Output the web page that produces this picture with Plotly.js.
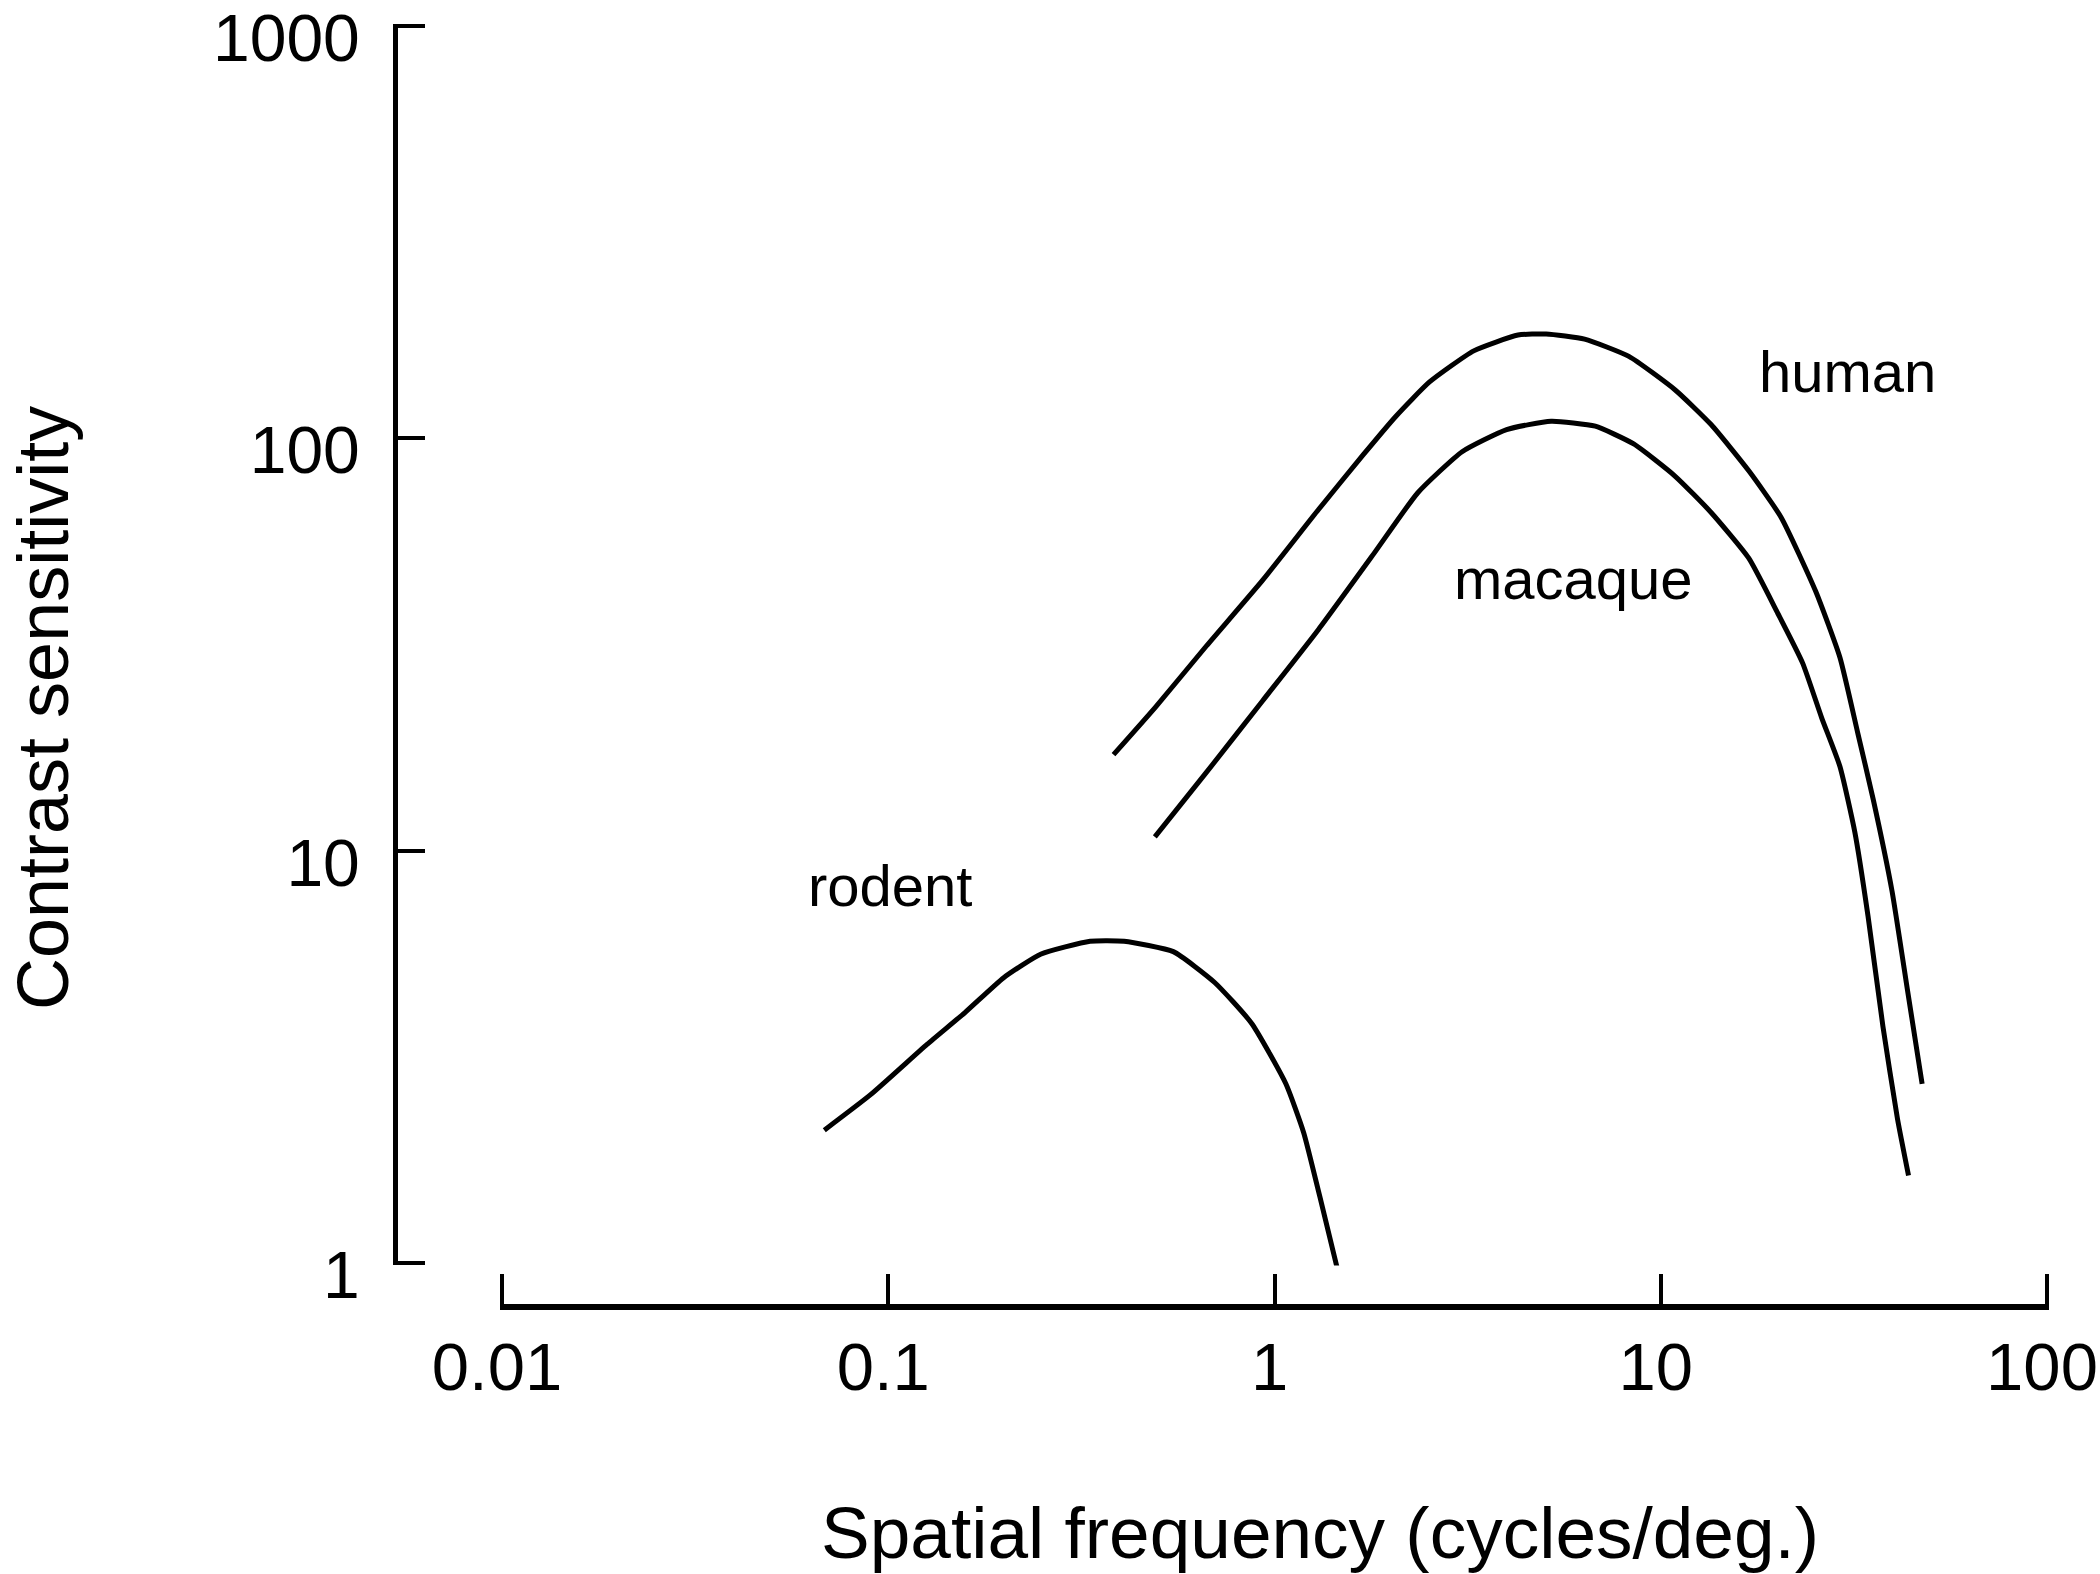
<!DOCTYPE html>
<html>
<head>
<meta charset="utf-8">
<script src="https://cdn.plot.ly/plotly-3.0.1.min.js"></script>
<style>
  html, body { margin: 0; padding: 0; background: #ffffff; }
  #chart { width: 2100px; height: 1574px; }
</style>
</head>
<body>
<div id="chart"></div>
<script>
// ---- data ----
const humanFreq = [0.383, 0.492, 0.667, 0.932, 1.30, 1.70, 2.06, 2.52, 3.28, 4.27, 5.05, 6.35, 8.27, 10.9, 13.5, 16.9, 20.5, 25.2, 29.1, 32.4, 35.5, 39.7, 43.5, 47.5];
const humanSens = [17.1, 22.3, 31.4, 45.3, 67.2, 91.4, 113, 137, 163, 178, 179, 174, 158, 131, 108, 83.4, 64.3, 42.5, 29.4, 19.2, 13.3, 7.98, 4.61, 2.72];

const macaqueFreq = [0.490, 0.667, 0.932, 1.30, 1.81, 2.35, 3.06, 3.99, 5.20, 6.77, 8.51, 10.9, 13.5, 16.9, 20.1, 23.3, 26.1, 29.1, 31.8, 34.4, 37.6, 41.0, 43.8];
const macaqueSens = [10.8, 15.5, 23.1, 34.4, 52.6, 73.8, 92.8, 105, 110, 107, 96.9, 80.9, 66.1, 51.2, 37.6, 28.5, 21.0, 16.0, 11.1, 6.95, 3.75, 2.24, 1.63];

const rodentFreq = [0.0683, 0.0900, 0.126, 0.158, 0.199, 0.248, 0.333, 0.408, 0.547, 0.700, 0.873, 1.07, 1.19, 1.31, 1.45];
const rodentSens = [2.10, 2.56, 3.39, 4.05, 4.92, 5.61, 6.03, 6.03, 5.69, 4.79, 3.81, 2.72, 2.07, 1.45, 0.98];

const labelText = ['human', 'macaque', 'rodent'];
const labelFreq = [30.4, 5.93, 0.101];
const labelSens = [145, 45.7, 8.22];

const xTickVals = [0.01, 0.1, 1, 10, 100];
const xTickText = ['0.01', '0.1', '1', '10', '100'];
const yTickVals = [1, 10, 100, 1000];
const yTickText = ['1', '10', '100', '1000'];

const xTitle = 'Spatial frequency (cycles/deg.)';
const yTitle = 'Contrast sensitivity';

// ---- drawing ----
const FONT = 'Arial, "Liberation Sans", sans-serif';
const W = 2100, H = 1574;
const EPS = 0.006;                       // keeps the end ticks inside the range
const lineStyle = { color: '#000000', width: 5, shape: 'spline', smoothing: 0.5 };

// pixel positions of the first/last decade ticks
const xT0 = 502, xT1 = 2047, xDec = (xT1 - xT0) / 4;
const yT0 = 1263, yT1 = 26, yDec = (yT0 - yT1) / 3;

const traces = [
  { x: humanFreq, y: humanSens, name: 'human', mode: 'lines', line: lineStyle, hoverinfo: 'skip' },
  { x: macaqueFreq, y: macaqueSens, name: 'macaque', mode: 'lines', line: lineStyle, hoverinfo: 'skip' },
  { x: rodentFreq, y: rodentSens, name: 'rodent', mode: 'lines', line: lineStyle, hoverinfo: 'skip' }
];

const annotations = labelText.map((t, i) => ({
  x: Math.log10(labelFreq[i]), y: Math.log10(labelSens[i]),
  xref: 'x', yref: 'y', text: t, showarrow: false,
  xanchor: 'center', yanchor: 'middle',
  font: { family: FONT, size: 58, color: '#000000' }
}));

annotations.push({
  xref: 'paper', yref: 'paper', x: 1320 / W, y: 1 - 1532 / H,
  text: xTitle, showarrow: false, xanchor: 'center', yanchor: 'middle',
  font: { family: FONT, size: 73, color: '#000000' }
});
annotations.push({
  xref: 'paper', yref: 'paper', x: 43 / W, y: 1 - 708 / H,
  text: yTitle, showarrow: false, textangle: -90, xanchor: 'center', yanchor: 'middle',
  font: { family: FONT, size: 72, color: '#000000' }
});

const layout = {
  width: W, height: H,
  margin: { l: 0, r: 0, t: 0, b: 0, pad: 0 },
  paper_bgcolor: '#ffffff', plot_bgcolor: '#ffffff',
  showlegend: false,
  font: { family: FONT, color: '#000000' },
  xaxis: {
    type: 'log', range: [-2 - EPS, 2 + EPS],
    domain: [(xT0 - EPS * xDec) / W, (xT1 + EPS * xDec) / W],
    anchor: 'free', position: 1 - 1307 / H,
    showline: true, linecolor: '#000000', linewidth: 6,
    ticks: 'inside', ticklen: 30, tickwidth: 4, tickcolor: '#000000',
    tickmode: 'array', tickvals: xTickVals, ticktext: xTickText,
    tickfont: { family: FONT, size: 67, color: '#000000' },
    ticklabelstandoff: 0, ticklabelshift: -5, ticklabeloverflow: 'allow',
    showgrid: false, zeroline: false, automargin: false
  },
  yaxis: {
    type: 'log', range: [0 - EPS, 3 + EPS],
    domain: [1 - (yT0 + EPS * yDec) / H, 1 - (yT1 - EPS * yDec) / H],
    anchor: 'free', position: 395 / W,
    showline: true, linecolor: '#000000', linewidth: 5,
    ticks: 'inside', ticklen: 27, tickwidth: 4, tickcolor: '#000000',
    tickmode: 'array', tickvals: yTickVals, ticktext: yTickText,
    tickfont: { family: FONT, size: 66, color: '#000000' },
    ticklabelstandoff: 20, ticklabelshift: 12, ticklabeloverflow: 'allow',
    showgrid: false, zeroline: false, automargin: false
  },
  annotations: annotations
};

Plotly.newPlot('chart', traces, layout, { staticPlot: true, displayModeBar: false });
</script>
</body>
</html>
